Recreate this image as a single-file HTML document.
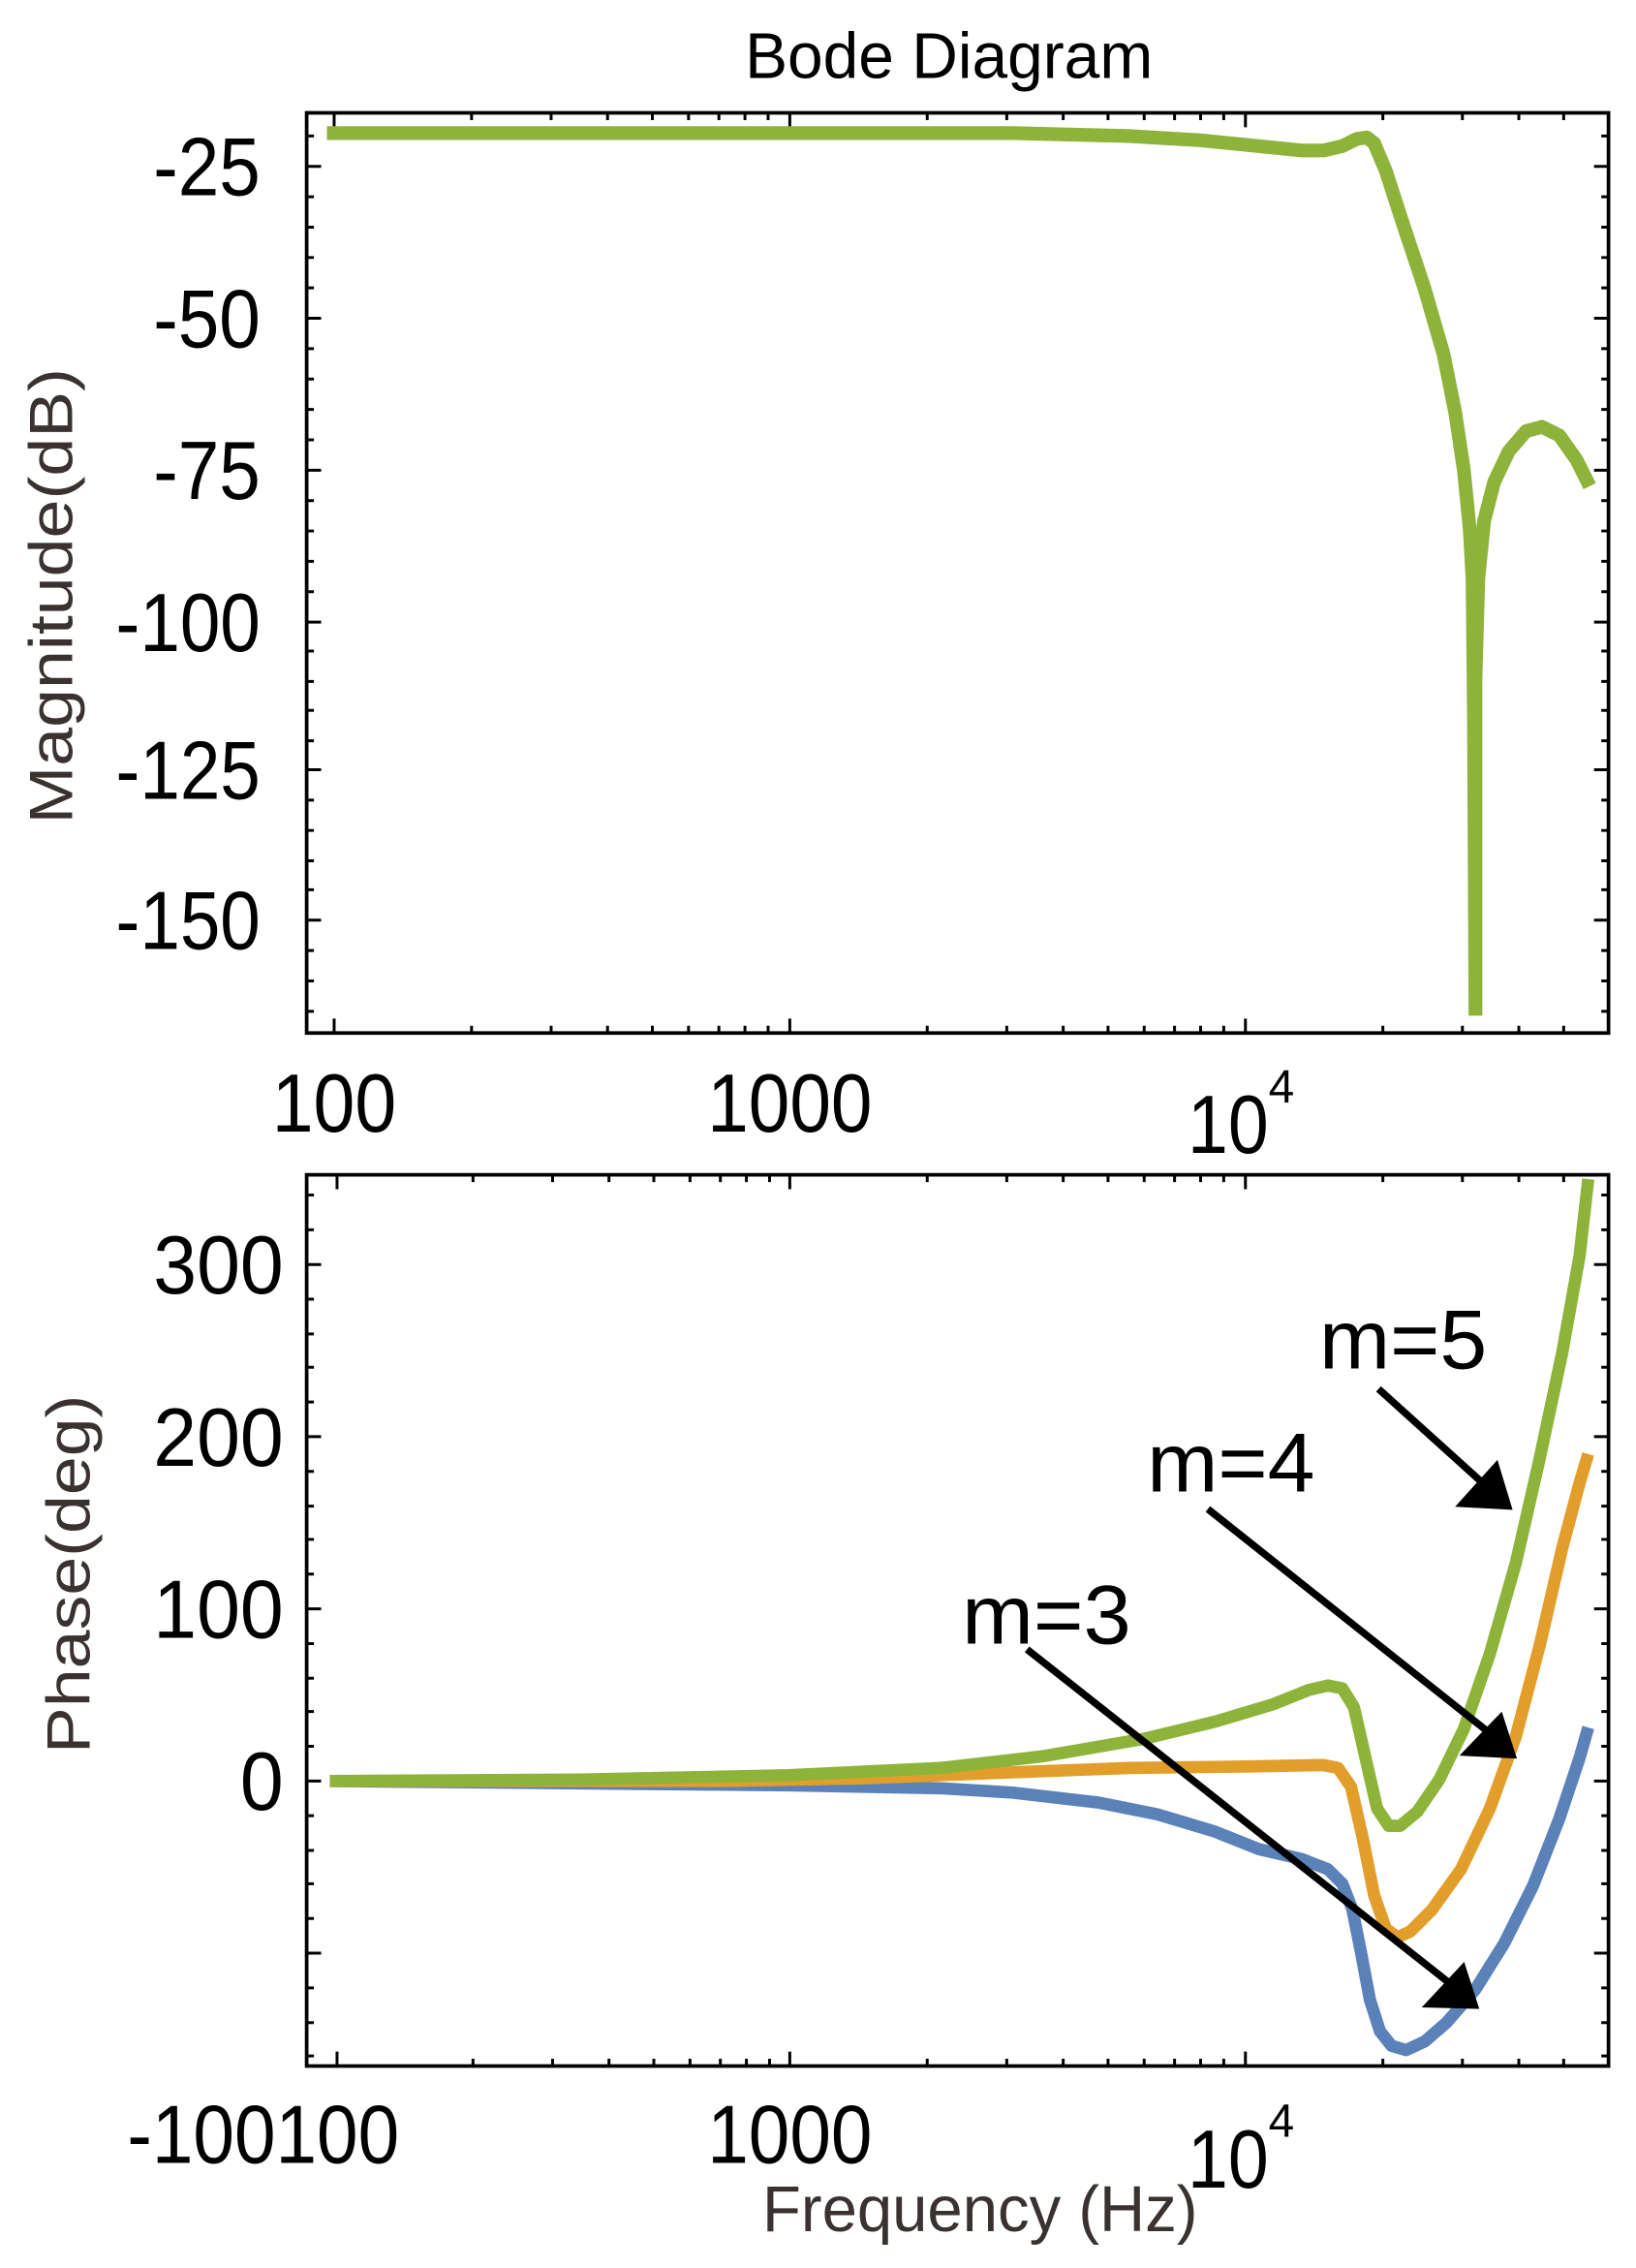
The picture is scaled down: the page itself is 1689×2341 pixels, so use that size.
<!DOCTYPE html>
<html><head><meta charset="utf-8"><style>html,body{margin:0;padding:0;background:#fff}svg{display:block}</style></head>
<body>
<svg width="1689" height="2341" viewBox="0 0 1131 1567.6" xmlns="http://www.w3.org/2000/svg" font-family="Liberation Sans, sans-serif">
<rect width="1131" height="1567.6" fill="#fff"/>
<text x="656" y="54" font-size="45" text-anchor="middle" textLength="282" lengthAdjust="spacingAndGlyphs">Bode Diagram</text>
<rect x="212" y="78" width="900" height="636" fill="none" stroke="#000" stroke-width="2.5"/>
<g stroke="#000" stroke-width="2">
<path d="M212 115h10M1112 115h-10M212 220h10M1112 220h-10M212 325h10M1112 325h-10M212 430h10M1112 430h-10M212 532h10M1112 532h-10M212 636h10M1112 636h-10"/>
<path d="M212 94h5M1112 94h-5M212 136h5M1112 136h-5M212 157h5M1112 157h-5M212 178h5M1112 178h-5M212 199h5M1112 199h-5M212 241h5M1112 241h-5M212 262h5M1112 262h-5M212 283h5M1112 283h-5M212 304h5M1112 304h-5M212 346h5M1112 346h-5M212 367h5M1112 367h-5M212 388h5M1112 388h-5M212 409h5M1112 409h-5M212 450h5M1112 450h-5M212 471h5M1112 471h-5M212 491h5M1112 491h-5M212 512h5M1112 512h-5M212 553h5M1112 553h-5M212 574h5M1112 574h-5M212 595h5M1112 595h-5M212 615h5M1112 615h-5M212 657h5M1112 657h-5M212 678h5M1112 678h-5M212 699h5M1112 699h-5"/>
<path d="M231 714v-10M231 78v10M546 714v-10M546 78v10M861 714v-10M861 78v10"/>
<path d="M326 714v-5M381 714v-5M420 714v-5M451 714v-5M476 714v-5M497 714v-5M515 714v-5M531 714v-5M641 714v-5M696 714v-5M735 714v-5M766 714v-5M791 714v-5M812 714v-5M830 714v-5M846 714v-5M956 714v-5M1011 714v-5M1050 714v-5M1081 714v-5M326 78v5M381 78v5M420 78v5M451 78v5M476 78v5M497 78v5M515 78v5M531 78v5M641 78v5M696 78v5M735 78v5M766 78v5M791 78v5M812 78v5M830 78v5M846 78v5M956 78v5M1011 78v5M1050 78v5M1081 78v5"/>
</g>
<g font-size="57" text-anchor="end">
<text x="180" y="135" textLength="74" lengthAdjust="spacingAndGlyphs">-25</text>
<text x="180" y="240" textLength="74" lengthAdjust="spacingAndGlyphs">-50</text>
<text x="180" y="345" textLength="74" lengthAdjust="spacingAndGlyphs">-75</text>
<text x="180" y="450" textLength="100" lengthAdjust="spacingAndGlyphs">-100</text>
<text x="180" y="552" textLength="100" lengthAdjust="spacingAndGlyphs">-125</text>
<text x="180" y="656" textLength="100" lengthAdjust="spacingAndGlyphs">-150</text>
</g>
<g font-size="57">
<text x="188" y="782" textLength="86" lengthAdjust="spacingAndGlyphs">100</text>
<text x="489" y="782" textLength="114" lengthAdjust="spacingAndGlyphs">1000</text>
<text x="821" y="797" textLength="56" lengthAdjust="spacingAndGlyphs">10</text>
<text x="877" y="762" font-size="32">4</text>
</g>
<text transform="translate(50 412) rotate(-90)" font-size="42" fill="#3a3230" text-anchor="middle" textLength="315" lengthAdjust="spacingAndGlyphs">Magnitude(dB)</text>
<path d="M226 92 L500 92 L700 92 L780 94 L830 97 L870 101 L900 104 L915 104 L928 101 L938 96 L945 95 L950 99 L958 118 L970 155 L985 200 L998 245 L1006 285 L1012 325 L1016 365 L1018 400 L1019 500 L1020 702 M1020 702 L1020 470 L1022 400 L1026 360 L1033 333 L1043 312 L1055 298 L1066 295 L1078 301 L1090 318 L1099 336" fill="none" stroke="#8db33a" stroke-width="9.5" stroke-linejoin="round"/>
<rect x="212" y="812" width="900" height="616" fill="none" stroke="#000" stroke-width="2.5"/>
<g stroke="#000" stroke-width="2">
<path d="M212 874h10M1112 874h-10M212 993h10M1112 993h-10M212 1112h10M1112 1112h-10M212 1231h10M1112 1231h-10M212 1350h10M1112 1350h-10"/>
<path d="M212 826h5M1112 826h-5M212 850h5M1112 850h-5M212 898h5M1112 898h-5M212 922h5M1112 922h-5M212 945h5M1112 945h-5M212 969h5M1112 969h-5M212 1017h5M1112 1017h-5M212 1041h5M1112 1041h-5M212 1064h5M1112 1064h-5M212 1088h5M1112 1088h-5M212 1136h5M1112 1136h-5M212 1160h5M1112 1160h-5M212 1183h5M1112 1183h-5M212 1207h5M1112 1207h-5M212 1255h5M1112 1255h-5M212 1279h5M1112 1279h-5M212 1302h5M1112 1302h-5M212 1326h5M1112 1326h-5M212 1374h5M1112 1374h-5M212 1398h5M1112 1398h-5M212 1421h5M1112 1421h-5"/>
<path d="M233 1428v-10M233 812v10M546 1428v-10M546 812v10M861 1428v-10M861 812v10"/>
<path d="M327 1428v-5M382 1428v-5M421 1428v-5M452 1428v-5M477 1428v-5M498 1428v-5M516 1428v-5M532 1428v-5M641 1428v-5M696 1428v-5M735 1428v-5M766 1428v-5M791 1428v-5M812 1428v-5M830 1428v-5M846 1428v-5M956 1428v-5M1011 1428v-5M1050 1428v-5M1081 1428v-5M327 812v5M382 812v5M421 812v5M452 812v5M477 812v5M498 812v5M516 812v5M532 812v5M641 812v5M696 812v5M735 812v5M766 812v5M791 812v5M812 812v5M830 812v5M846 812v5M956 812v5M1011 812v5M1050 812v5M1081 812v5"/>
</g>
<g font-size="57" text-anchor="end">
<text x="196" y="894" textLength="90" lengthAdjust="spacingAndGlyphs">300</text>
<text x="196" y="1013" textLength="90" lengthAdjust="spacingAndGlyphs">200</text>
<text x="196" y="1132" textLength="90" lengthAdjust="spacingAndGlyphs">100</text>
<text x="196" y="1251" textLength="30" lengthAdjust="spacingAndGlyphs">0</text>
</g>
<g font-size="57">
<text x="88" y="1495" textLength="188" lengthAdjust="spacingAndGlyphs">-100100</text>
<text x="489" y="1495" textLength="114" lengthAdjust="spacingAndGlyphs">1000</text>
<text x="821" y="1512" textLength="56" lengthAdjust="spacingAndGlyphs">10</text>
<text x="877" y="1477" font-size="32">4</text>
</g>
<text x="527" y="1542" font-size="45" fill="#3a3230" textLength="301" lengthAdjust="spacingAndGlyphs">Frequency (Hz)</text>
<text transform="translate(62 1088) rotate(-90)" font-size="42" fill="#3a3230" text-anchor="middle" textLength="248" lengthAdjust="spacingAndGlyphs">Phase(deg)</text>
<g fill="none" stroke-width="8.5" stroke-linejoin="round" stroke-linecap="butt">
<path stroke="#5b82b8" d="M228 1231 L545 1234 L650 1236 L700 1239 L760 1246 L800 1254 L840 1266 L870 1278 L900 1285 L918 1292 L928 1302 L935 1320 L941 1350 L947 1382 L954 1404 L962 1414 L972 1417 L985 1411 L1000 1398 L1020 1375 L1040 1343 L1060 1303 L1078 1257 L1092 1215 L1098 1194"/>
<path stroke="#e29e2a" d="M228 1231 L500 1231 L600 1229 L700 1225 L780 1222 L860 1221 L915 1220 L925 1222 L934 1235 L942 1270 L950 1310 L958 1333 L966 1339 L975 1335 L990 1320 L1010 1292 L1030 1250 L1048 1200 L1065 1135 L1080 1070 L1092 1025 L1098 1005"/>
<path stroke="#8db33a" d="M228 1231 L400 1230 L545 1227 L650 1222 L720 1214 L790 1202 L840 1190 L880 1178 L905 1168 L918 1165 L928 1167 L936 1180 L944 1215 L952 1250 L960 1262 L968 1262 L980 1252 L995 1230 L1012 1195 L1030 1143 L1048 1080 L1064 1010 L1080 935 L1092 868 L1098 815"/>
</g>
<g stroke="#000" stroke-width="5" fill="#000">
<path d="M953 960 L1025 1025" fill="none"/><path d="M1045 1043 L1007 1041 L1035 1010 Z" stroke-width="1"/>
<path d="M835 1043 L1030 1198" fill="none"/><path d="M1048 1215 L1010 1213 L1038 1184 Z" stroke-width="1"/>
<path d="M710 1140 L1005 1373" fill="none"/><path d="M1022 1388 L984 1387 L1012 1357 Z" stroke-width="1"/>
</g>
<g font-size="58">
<text x="912" y="946" textLength="116" lengthAdjust="spacingAndGlyphs">m=5</text>
<text x="793" y="1031" textLength="116" lengthAdjust="spacingAndGlyphs">m=4</text>
<text x="665" y="1136" textLength="117" lengthAdjust="spacingAndGlyphs">m=3</text>
</g>
</svg>
</body></html>
